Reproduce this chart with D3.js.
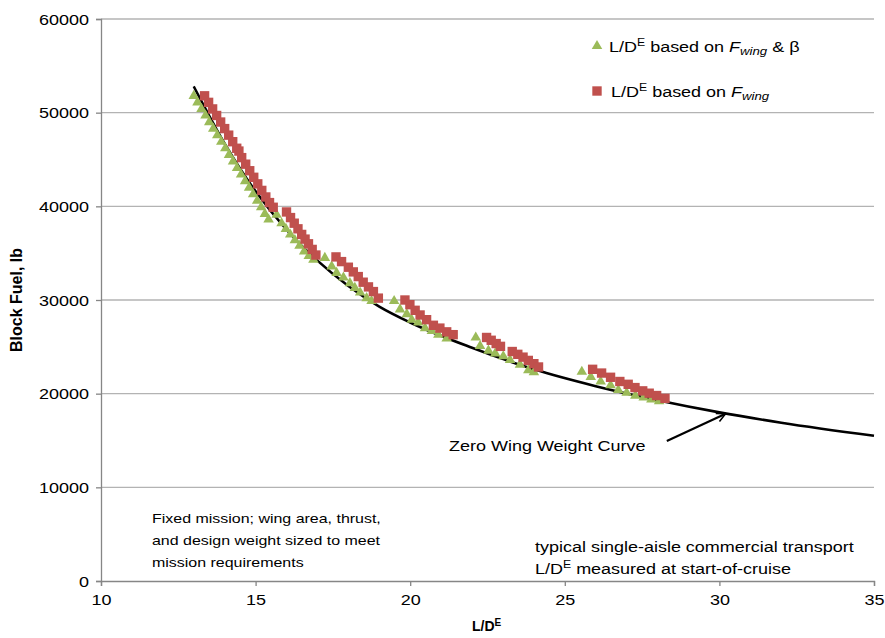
<!DOCTYPE html>
<html>
<head>
<meta charset="utf-8">
<script src="https://cdn.jsdelivr.net/npm/d3@7"></script>
<style>
	body { margin: 0; background: #fff; }
	text { font-family: "Liberation Sans", Arial, sans-serif; }
</style>
</head>
<body>
<div id="chart"></div>
<script>
// L/D^E based on F_wing & beta (green triangles)
var triLD = [13.0, 13.12, 13.25, 13.38, 13.5, 13.63, 13.76, 13.89, 14.02, 14.14, 14.27, 14.4, 14.53, 14.66, 14.79, 14.92, 15.05, 15.18, 15.3, 15.42,
	15.68, 15.84, 15.98, 16.12, 16.27, 16.42, 16.57, 16.72, 16.87,
	17.24, 17.46, 17.62, 17.84, 18.05, 18.21, 18.38, 18.59, 18.75,
	19.48, 19.67, 19.89, 20.05, 20.26, 20.48, 20.7, 20.91, 21.18,
	22.12, 22.26, 22.53, 22.75, 23.01, 23.23, 23.55, 23.82, 24.0,
	25.55, 25.84, 26.16, 26.48, 26.73, 27.0, 27.28, 27.55, 27.8, 28.05];
var triFuel = [51900, 51200, 50500, 49800, 49100, 48400, 47700, 47000, 46300, 45600, 44900, 44200, 43500, 42800, 42100, 41400, 40700, 40000, 39300, 38700,
	39200, 38300, 37700, 37100, 36500, 35900, 35300, 34800, 34400,
	34600, 33700, 33000, 32500, 31900, 31400, 30900, 30300, 30000,
	30000, 29100, 28600, 28000, 27700, 27100, 26800, 26400, 26000,
	26100, 25200, 24700, 24400, 24100, 23700, 23200, 22600, 22400,
	22450, 21900, 21400, 21000, 20500, 20200, 19900, 19700, 19500, 19300];

// L/D^E based on F_wing (red squares)
var sqLD = [13.35, 13.48, 13.61, 13.74, 13.87, 14.0, 14.13, 14.26, 14.39, 14.46, 14.55, 14.68, 14.81, 14.94, 15.07, 15.2, 15.33, 15.45, 15.57,
	16.0, 16.13, 16.25, 16.37, 16.49, 16.6, 16.71, 16.83, 16.95,
	17.6, 17.78, 18.0, 18.16, 18.32, 18.48, 18.65, 18.81, 18.97,
	19.83, 19.99, 20.16, 20.32, 20.53, 20.75, 20.96, 21.18, 21.39,
	22.47, 22.62, 22.78, 22.92, 23.3, 23.48, 23.65, 23.82, 24.0, 24.15,
	25.9, 26.19, 26.48, 26.78, 27.05, 27.27, 27.52, 27.73, 27.97, 28.24];
var sqFuel = [51800, 51100, 50400, 49700, 49000, 48300, 47600, 46900, 46200, 45900, 45200, 44500, 43800, 43100, 42400, 41700, 41000, 40400, 39900,
	39400, 38800, 38200, 37600, 37000, 36500, 36000, 35400, 34800,
	34600, 34100, 33500, 33000, 32500, 31900, 31400, 30900, 30200,
	30000, 29500, 28900, 28400, 27900, 27300, 27000, 26600, 26300,
	26000, 25700, 25350, 25050, 24500, 24200, 23900, 23550, 23200, 22850,
	22600, 22200, 21750, 21300, 21000, 20650, 20300, 20050, 19800, 19500];

// zero wing weight curve
var curveLD = [13.0, 14, 15, 16, 17, 18, 19, 20, 22, 24, 26, 28, 30, 32, 35];
var curveFuel = [52800, 46700, 41600, 37500, 34200, 31500, 29300, 27600, 24900, 22600, 20800, 19300, 18000, 16900, 15500];

var xTicks = [10, 15, 20, 25, 30, 35];
var yTicks = [0, 10000, 20000, 30000, 40000, 50000, 60000];

var W = 885, H = 638;
var margin = {top: 19, right: 11, bottom: 57, left: 101};
var SX = 1.2;   // the text in the original is drawn wide

var svg = d3.select("#chart").append("svg")
	.attr("width", W)
	.attr("height", H);

var x = d3.scaleLinear().domain([10, 35]).range([margin.left, W - margin.right]);
var y = d3.scaleLinear().domain([0, 60000]).range([H - margin.bottom, margin.top]);

// gridlines
svg.append("g")
	.selectAll("line")
	.data(yTicks.slice(1))
	.enter()
	.append("line")
	.attr("x1", x(10))
	.attr("x2", x(35))
	.attr("y1", function(d){ return y(d); })
	.attr("y2", function(d){ return y(d); })
	.attr("stroke", "#b3b3b3")
	.attr("stroke-width", 1.3);

// axes
var xAxis = svg.append("g")
	.attr("transform", "translate(0," + y(0) + ")")
	.call(d3.axisBottom(x).tickValues(xTicks).tickSize(5).tickPadding(5));
var yAxis = svg.append("g")
	.attr("transform", "translate(" + x(10) + ",0)")
	.call(d3.axisLeft(y).tickValues(yTicks).tickSize(5).tickPadding(5).tickFormat(d3.format("d")));

[xAxis, yAxis].forEach(function(a){
	a.select(".domain").attr("stroke", "#868686").attr("stroke-width", 1.3);
	a.selectAll(".tick line").attr("stroke", "#868686").attr("stroke-width", 1.3);
	a.selectAll(".tick text")
		.attr("font-size", "15px")
		.attr("font-family", "Liberation Sans, Arial, sans-serif")
		.attr("fill", "#000")
		.attr("transform", "scale(" + SX + ",1)");
});
xAxis.selectAll(".tick text").attr("dy", "0.95em");
yAxis.selectAll(".tick text").attr("dy", "0.35em");

// curve
var line = d3.line()
	.x(function(d){ return x(d[0]); })
	.y(function(d){ return y(d[1]); })
	.curve(d3.curveMonotoneX);

svg.append("path")
	.datum(d3.zip(curveLD, curveFuel))
	.attr("d", line)
	.attr("fill", "none")
	.attr("stroke", "#000")
	.attr("stroke-width", 2.6);

// markers
var tri = d3.symbol().type(d3.symbolTriangle).size(48);
var sq = d3.symbol().type(d3.symbolSquare).size(88);

svg.append("g")
	.selectAll("path")
	.data(d3.zip(triLD, triFuel))
	.enter()
	.append("path")
	.attr("d", tri)
	.attr("transform", function(d){ return "translate(" + x(d[0]) + "," + (y(d[1]) + 1) + ")"; })
	.attr("fill", "#9bbb59");

svg.append("g")
	.selectAll("path")
	.data(d3.zip(sqLD, sqFuel))
	.enter()
	.append("path")
	.attr("d", sq)
	.attr("transform", function(d){ return "translate(" + x(d[0]) + "," + y(d[1]) + ")"; })
	.attr("fill", "#c0504d");

// text placed at px,py and widened by SX
function label(g, px, py, size) {
	return g.append("text")
		.attr("transform", "translate(" + px + "," + py + ") scale(" + SX + ",1)")
		.attr("font-size", size + "px")
		.attr("fill", "#000");
}

function ldLabel(g, px, py, size) {
	var t = label(g, px, py, size);
	t.append("tspan").text("L/D");
	t.append("tspan").text("E").attr("font-size", (size * 0.68) + "px").attr("dy", -size * 0.38);
	return t;
}

// legend
var legend = svg.append("g");
legend.append("path").attr("d", tri).attr("transform", "translate(597,46)").attr("fill", "#9bbb59");
legend.append("path").attr("d", sq).attr("transform", "translate(597,91)").attr("fill", "#c0504d");

var l1 = ldLabel(legend, 609, 52, 15);
l1.append("tspan").text(" based on ").attr("dy", 15 * 0.38);
l1.append("tspan").text("F").attr("font-style", "italic");
l1.append("tspan").text("wing").attr("font-style", "italic").attr("font-size", "11px").attr("dy", 3);
l1.append("tspan").text(" & β").attr("dy", -3);

var l2 = ldLabel(legend, 611, 97, 15);
l2.append("tspan").text(" based on ").attr("dy", 15 * 0.38);
l2.append("tspan").text("F").attr("font-style", "italic");
l2.append("tspan").text("wing").attr("font-style", "italic").attr("font-size", "11px").attr("dy", 3);

// annotations
label(svg, 449, 451, 15).text("Zero Wing Weight Curve");

svg.append("defs").append("marker")
	.attr("id", "head")
	.attr("viewBox", "0 0 10 10")
	.attr("refX", 9).attr("refY", 5)
	.attr("markerWidth", 5).attr("markerHeight", 5)
	.attr("orient", "auto")
	.append("path")
	.attr("d", "M1,1 L9,5 L1,9")
	.attr("fill", "none")
	.attr("stroke", "#000")
	.attr("stroke-width", 1.4);

svg.append("line")
	.attr("x1", x(28.3)).attr("y1", y(14940))
	.attr("x2", x(30.2)).attr("y2", y(17850))
	.attr("stroke", "#000")
	.attr("stroke-width", 2.2)
	.attr("marker-end", "url(#head)");

var note1 = ["Fixed mission; wing area, thrust,", "and design weight sized to meet", "mission requirements"];
note1.forEach(function(d, i){
	label(svg, 152, 523 + i * 22, 13.3).text(d);
});

label(svg, 535, 552, 15).text("typical single-aisle commercial transport");
var n2 = ldLabel(svg, 535, 574, 15);
n2.append("tspan").text(" measured at start-of-cruise").attr("dy", 15 * 0.38);

// axis titles
svg.append("text")
	.attr("transform", "translate(22," + ((margin.top + H - margin.bottom) / 2) + ") rotate(-90)")
	.attr("text-anchor", "middle")
	.attr("font-size", "16px")
	.attr("font-weight", "bold")
	.text("Block Fuel, lb");

var xt = svg.append("text")
	.attr("x", 472).attr("y", 631)
	.attr("font-size", "14px")
	.attr("font-weight", "bold");
xt.append("tspan").text("L/D");
xt.append("tspan").text("E").attr("font-size", "10px").attr("dy", -5);
</script>
</body>
</html>
